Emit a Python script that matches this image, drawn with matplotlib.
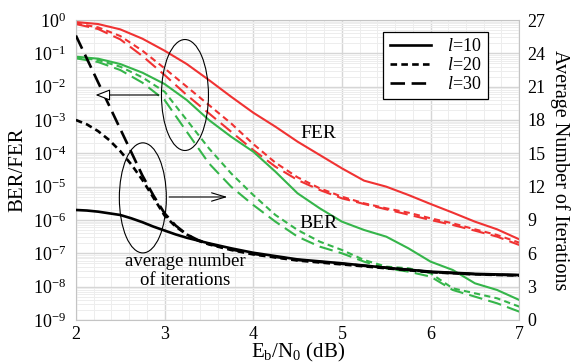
import numpy as np
import matplotlib
matplotlib.use('Agg')
import matplotlib.pyplot as plt
from matplotlib.patches import Ellipse
from matplotlib.ticker import MultipleLocator, LogLocator, NullFormatter

plt.rcParams['font.family'] = ['Liberation Serif', 'DejaVu Serif']
plt.rcParams['mathtext.fontset'] = 'custom'
plt.rcParams['mathtext.rm'] = 'Liberation Serif'
plt.rcParams['mathtext.it'] = 'Liberation Serif:italic'

# Eb/N0 points (dB) for the BER/FER curves
ebn0 = [2.0, 2.25, 2.5, 2.75, 3.0, 3.25, 3.5, 3.75, 4.0, 4.25, 4.5,
        4.75, 5.0, 5.25, 5.5, 5.75, 6.0, 6.25, 6.5, 6.75, 7.0]

# log10 of FER / BER
fer_l10 = [-0.06, -0.12, -0.28, -0.56, -0.92, -1.32, -1.8, -2.3, -2.78, -3.2, -3.65,
           -4.05, -4.45, -4.82, -5.0, -5.25, -5.52, -5.78, -6.05, -6.28, -6.58]
fer_l20 = [-0.1, -0.22, -0.48, -0.92, -1.45, -2.0, -2.55, -3.1, -3.72, -4.28, -4.72,
           -5.05, -5.3, -5.5, -5.65, -5.78, -5.95, -6.1, -6.28, -6.45, -6.68]
fer_l30 = [-0.12, -0.27, -0.58, -1.08, -1.65, -2.25, -2.8, -3.35, -3.9, -4.4, -4.8,
           -5.1, -5.35, -5.52, -5.68, -5.84, -6.0, -6.15, -6.32, -6.5, -6.75]
ber_l10 = [-1.1, -1.16, -1.32, -1.58, -1.92, -2.4, -3.0, -3.5, -3.95, -4.55, -5.2,
           -5.65, -6.05, -6.3, -6.5, -6.85, -7.25, -7.5, -7.9, -8.1, -8.4]
ber_l20 = [-1.12, -1.2, -1.4, -1.72, -2.15, -3.0, -3.85, -4.6, -5.25, -5.85, -6.3,
           -6.65, -6.9, -7.2, -7.4, -7.45, -7.6, -8.05, -8.2, -8.35, -8.6]
ber_l30 = [-1.15, -1.26, -1.5, -1.88, -2.4, -3.35, -4.3, -5.0, -5.55, -6.05, -6.5,
           -6.8, -7.0, -7.25, -7.45, -7.55, -7.7, -8.1, -8.3, -8.5, -8.75]

# Eb/N0 points (dB) for the iteration curves
ebn0_it = [2.0, 2.125, 2.25, 2.375, 2.5, 2.625, 2.75, 2.875, 3.0, 3.125, 3.25,
           3.375, 3.5, 3.75, 4.0, 4.5, 5.0, 5.5, 6.0, 6.5, 7.0]
iter_l10 = [9.9, 9.85, 9.75, 9.6, 9.45, 9.15, 8.8, 8.4, 8.05, 7.7, 7.4,
            7.15, 6.9, 6.45, 6.05, 5.45, 5.1, 4.7, 4.35, 4.15, 4.05]
iter_l20 = [18.0, 17.6, 17.0, 16.2, 15.2, 14.0, 12.6, 11.0, 9.4, 8.4, 7.7,
            7.15, 6.8, 6.3, 5.9, 5.35, 5.0, 4.65, 4.3, 4.1, 4.0]
iter_l30 = [25.6, 23.5, 21.4, 19.3, 17.2, 15.1, 13.0, 11.2, 9.6, 8.5, 7.7,
            7.2, 6.85, 6.35, 5.95, 5.4, 5.05, 4.7, 4.32, 4.12, 4.02]

red = '#f03232'
green = '#35b54a'
short = (3, 2)
long_ = (6.5, 3)

fig = plt.figure(figsize=(5.75, 3.64), dpi=100)
ax = fig.add_axes([0.132, 0.121, 0.771, 0.824])

x = np.array(ebn0)
ax.semilogy(x, 10 ** np.array(fer_l10), color=red, lw=1.5)
ax.semilogy(x, 10 ** np.array(fer_l20), color=red, lw=1.5, dashes=short)
ax.semilogy(x, 10 ** np.array(fer_l30), color=red, lw=1.5, dashes=long_)
ax.semilogy(x, 10 ** np.array(ber_l10), color=green, lw=1.5)
ax.semilogy(x, 10 ** np.array(ber_l20), color=green, lw=1.5, dashes=short)
ax.semilogy(x, 10 ** np.array(ber_l30), color=green, lw=1.5, dashes=long_)

ax.set_xlim(2, 7)
ax.set_ylim(1e-9, 1)
ax.xaxis.set_major_locator(MultipleLocator(1))
ax.xaxis.set_minor_locator(MultipleLocator(0.2))
ax.yaxis.set_major_locator(LogLocator(base=10, numticks=20))
ax.yaxis.set_minor_locator(LogLocator(base=10, subs=np.arange(2, 10), numticks=20))
ax.yaxis.set_minor_formatter(NullFormatter())
ax.grid(which='major', color='#d6d6d6', lw=1.0)
ax.grid(which='minor', color='#ededed', lw=0.7)
ax.set_axisbelow(True)
ax.tick_params(which='both', length=0, labelsize=13)
ax.tick_params(axis='y', pad=7)
ax.tick_params(axis='x', pad=4)
for s in ax.spines.values():
    s.set_color('#c4c4c4')
ax.set_ylabel('BER/FER', fontsize=15, labelpad=4)
ax.set_xlabel(r'E$_\mathrm{b}$/N$_\mathrm{0}$ (dB)', fontsize=15, labelpad=-1)

xi = np.array(ebn0_it)
ax2 = ax.twinx()
ax2.plot(xi, iter_l10, color='black', lw=1.9, label='$l$=10')
ax2.plot(xi, iter_l20, color='black', lw=1.9, dashes=(2.5, 1.6), label='$l$=20')
ax2.plot(xi, iter_l30, color='black', lw=1.9, dashes=(5.5, 2.5), label='$l$=30')
ax2.set_ylim(0, 27)
ax2.yaxis.set_major_locator(MultipleLocator(3))
ax2.tick_params(length=0, labelsize=13, pad=6)
for s in ax2.spines.values():
    s.set_visible(False)
ax2.set_ylabel('Average Number of Iterations', fontsize=14.5, rotation=270, va='center')
ax2.yaxis.set_label_coords(1.092, 0.5)

leg = ax2.legend(loc='upper right', bbox_to_anchor=(0.93, 0.96), fontsize=13,
                 frameon=True, fancybox=False, handlelength=2.3, borderpad=0.35,
                 labelspacing=0.1, handletextpad=0.9, borderaxespad=0)
leg.get_frame().set_edgecolor('black')
leg.get_frame().set_linewidth(0.9)
leg.get_frame().set_alpha(1)

# ellipses and arrows
ax2.add_patch(Ellipse((0.246, 0.75), 0.106, 0.37, transform=ax2.transAxes,
                      fill=False, ec='black', lw=0.8))
ax2.add_patch(Ellipse((0.151, 0.407), 0.106, 0.367, transform=ax2.transAxes,
                      fill=False, ec='black', lw=0.8))
ax2.annotate('', xy=(0.038, 0.75), xytext=(0.193, 0.75), xycoords='axes fraction',
             arrowprops=dict(arrowstyle='-|>,head_length=0.9,head_width=0.35',
                             fc='white', ec='black', lw=0.8))
ax2.annotate('', xy=(0.348, 0.41), xytext=(0.204, 0.41), xycoords='axes fraction',
             arrowprops=dict(arrowstyle='->,head_length=1.0,head_width=0.3',
                             ec='black', lw=0.8))

ax2.text(0.546, 0.623, 'FER', transform=ax2.transAxes, fontsize=14,
         ha='center', va='center')
ax2.text(0.546, 0.323, 'BER', transform=ax2.transAxes, fontsize=14,
         ha='center', va='center')
ax2.text(0.246, 0.163, 'average number\nof iterations', transform=ax2.transAxes,
         fontsize=13.5, ha='center', va='center', linespacing=1.1)

fig.savefig('out.png', dpi=100)
